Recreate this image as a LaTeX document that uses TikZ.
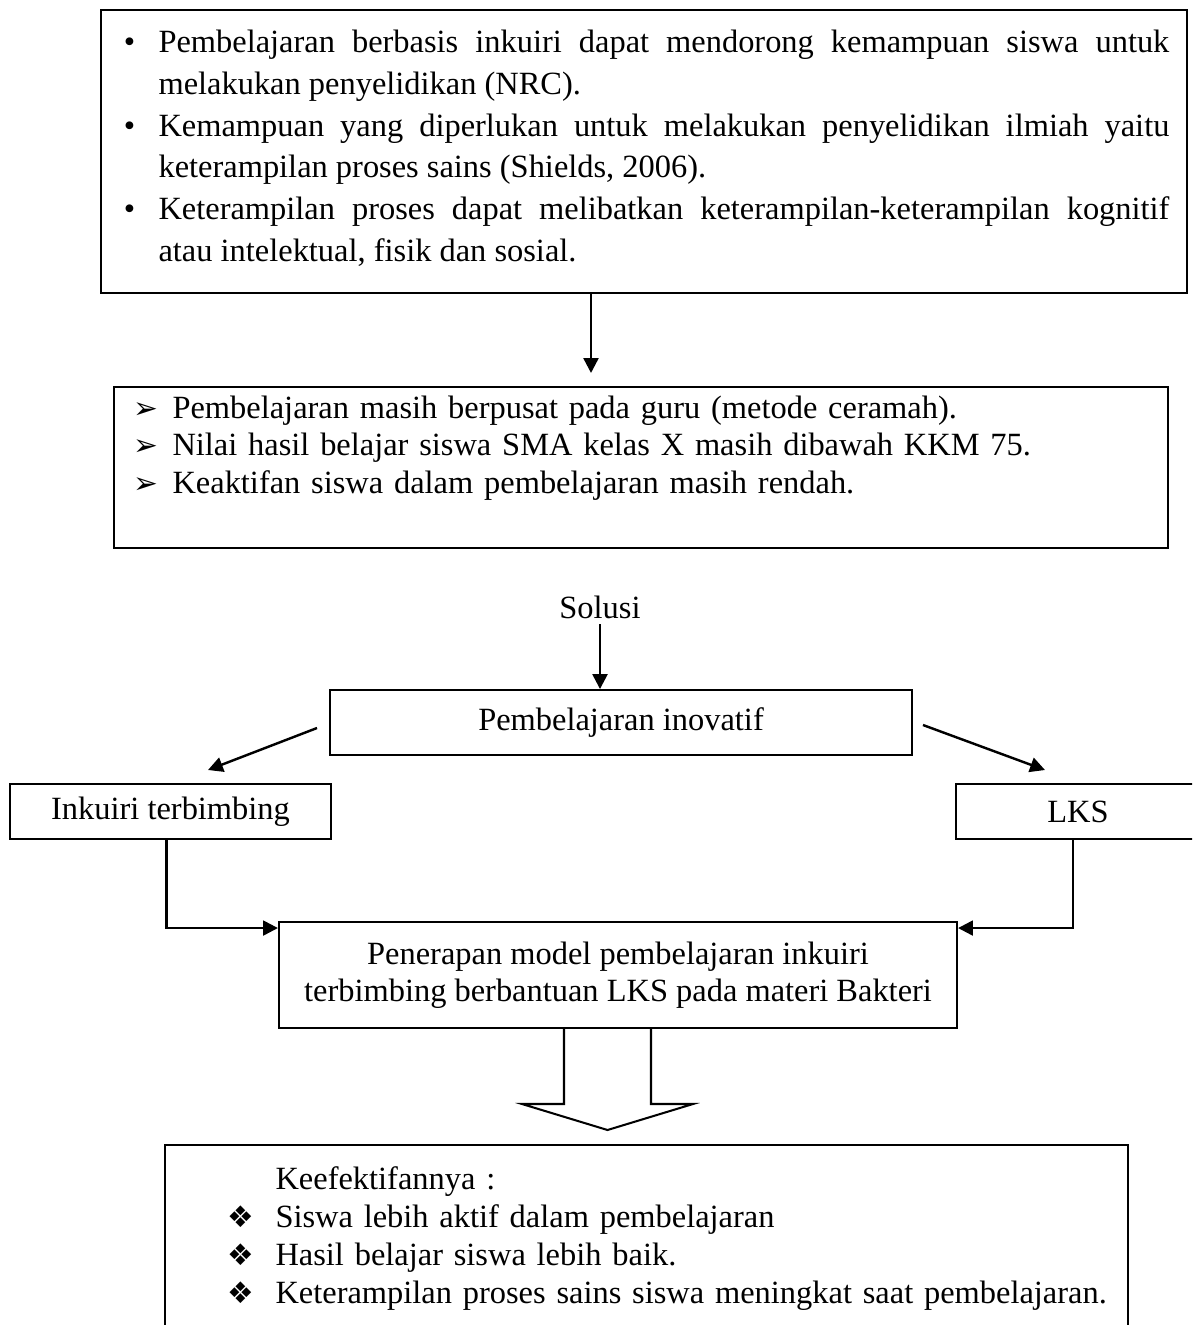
\documentclass[tikz,border=0pt]{standalone}
\usepackage{fontspec}
\setmainfont{Liberation Serif}
\newfontfamily\simbolfont{DejaVu Sans}
\usetikzlibrary{arrows.meta,fit}

\begin{document}
\begin{tikzpicture}[x=0.37pt,y=-0.37pt,
		kotak/.style={draw,line width=0.75pt,inner sep=0pt},
		panah/.style={line width=0.9pt,-{Triangle[length=5.5pt,width=5.5pt]}},
		isi/.style={anchor=base west,inner sep=0pt},
		font=\fontsize{12}{14}\selectfont]

	\useasboundingbox (0,0) rectangle (1192,1325);
	\clip (0,0) rectangle (1192,1325);

	% kotak latar belakang
	\node[kotak,fit={(101,10) (1187,293)}] (latar) {};
	\node[isi,text width=374pt,align=justify,font=\fontsize{12}{15.4}\selectfont\hyphenpenalty10000] (teks1) at (158,53)
		{\leavevmode\llap{\makebox[21.4pt]{•}}Pembelajaran berbasis inkuiri dapat mendorong kemampuan siswa untuk\linebreak melakukan penyelidikan (NRC).\par
		\leavevmode\llap{\makebox[21.4pt]{•}}Kemampuan yang diperlukan untuk melakukan penyelidikan ilmiah yaitu\linebreak keterampilan proses sains (Shields, 2006).\par
		\leavevmode\llap{\makebox[21.4pt]{•}}Keterampilan proses dapat melibatkan keterampilan-keterampilan kognitif\linebreak atau intelektual, fisik dan sosial.};

	\coordinate (ujung1) at (591,373);
	\draw[panah] (latar.south -| ujung1) -- (ujung1);

	% kotak masalah
	\node[kotak,fit={(114,387) (1168,548)}] (masalah) {};
	\node[isi,text width=380pt,align=left,font=\fontsize{12}{13.9}\selectfont] (teks2) at (172,418)
		{\leavevmode\llap{\makebox[20pt]{\simbolfont\fontsize{11}{11}\selectfont ➢}}Pembelajaran masih berpusat pada guru (metode ceramah).\par
		\leavevmode\llap{\makebox[20pt]{\simbolfont\fontsize{11}{11}\selectfont ➢}}Nilai hasil belajar siswa SMA kelas X masih dibawah KKM 75.\par
		\leavevmode\llap{\makebox[20pt]{\simbolfont\fontsize{11}{11}\selectfont ➢}}Keaktifan siswa dalam pembelajaran masih rendah.};

	% solusi
	\node[inner sep=2pt] (solusi) at (600,607) {Solusi};
	\node[kotak,minimum width=215.3pt,minimum height=24pt] (inovatif) at (621,722.5) {Pembelajaran inovatif};
	\draw[panah] (solusi.south) -- (solusi.south |- inovatif.north);

	\node[kotak,minimum width=118.8pt,minimum height=20.4pt] (inkuiri) at (170.5,811.5) {Inkuiri terbimbing};
	\node[kotak,minimum width=90.3pt,minimum height=20.4pt] (lks) at (1078,811.5) {LKS};

	\coordinate (kiri) at (208,770);
	\coordinate (kanan) at (1045,770);
	\draw[panah] ([shift={(-12,5.5)}]inovatif.west) -- (kiri);
	\draw[panah] ([shift={(10,2.5)}]inovatif.east) -- (kanan);

	% penerapan
	\node[kotak,minimum width=250.9pt,minimum height=39.2pt,align=center,font=\fontsize{12}{13.7}\selectfont] (penerapan) at (618,975)
		{Penerapan model pembelajaran inkuiri\\terbimbing berbantuan LKS pada materi Bakteri};
	\draw[panah] ([xshift=-1.5pt]inkuiri.south) |- ([yshift=-2.6pt]penerapan.north west);
	\draw[panah] ([xshift=-1.8pt]lks.south) |- ([yshift=-2.6pt]penerapan.north east);

	% panah besar
	\draw[line width=0.75pt] (564,1028) -- (564,1104) -- (522,1104) -- (607.5,1130)
		-- (693,1104) -- (651,1104) -- (651,1028);

	% kotak keefektifan
	\node[kotak,fit={(165,1145) (1128,1360)}] (efektif) {};
	\node[isi,text width=340pt,align=left,font=\fontsize{12}{14.1}\selectfont] (teks3) at (275,1189)
		{Keefektifannya :\par
		\leavevmode\llap{\makebox[26pt]{\simbolfont\fontsize{11}{11}\selectfont ❖}}Siswa lebih aktif dalam pembelajaran\par
		\leavevmode\llap{\makebox[26pt]{\simbolfont\fontsize{11}{11}\selectfont ❖}}Hasil belajar siswa lebih baik.\par
		\leavevmode\llap{\makebox[26pt]{\simbolfont\fontsize{11}{11}\selectfont ❖}}Keterampilan proses sains siswa meningkat saat pembelajaran.};
\end{tikzpicture}
\end{document}
